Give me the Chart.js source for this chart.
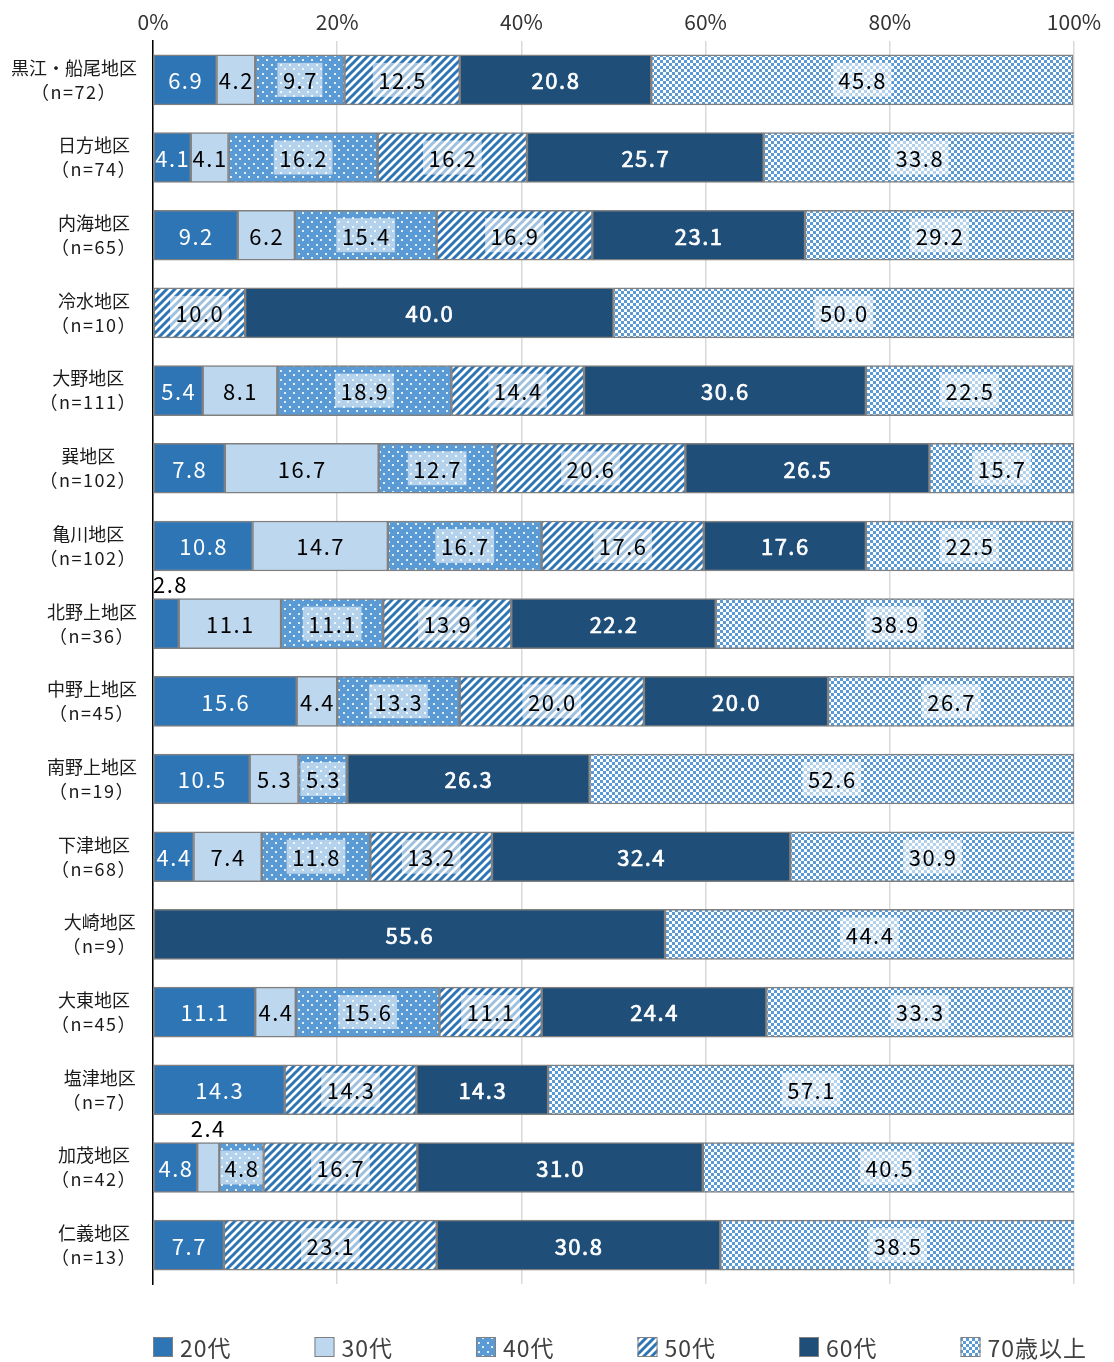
<!DOCTYPE html>
<html>
<head>
<meta charset="utf-8">
<script src="https://cdn.jsdelivr.net/npm/chart.js@4/dist/chart.umd.min.js"></script>
<style>
  html, body { margin: 0; padding: 0; background: #ffffff; }
  #wrap { width: 1114px; height: 1362px; }
</style>
</head>
<body>
<div id="wrap"><canvas id="c" width="1114" height="1362"></canvas></div>
<script>
// ---- data ----
const districts = ['黒江・船尾地区','日方地区','内海地区','冷水地区','大野地区','巽地区','亀川地区','北野上地区','中野上地区','南野上地区','下津地区','大崎地区','大東地区','塩津地区','加茂地区','仁義地区'];
const sampleSizes = ['（n=72）','（n=74）','（n=65）','（n=10）','（n=111）','（n=102）','（n=102）','（n=36）','（n=45）','（n=19）','（n=68）','（n=9）','（n=45）','（n=7）','（n=42）','（n=13）'];
const seriesNames = ['20代','30代','40代','50代','60代','70歳以上'];
const age20s = [6.9, 4.1, 9.2, 0, 5.4, 7.8, 10.8, 2.8, 15.6, 10.5, 4.4, 0, 11.1, 14.3, 4.8, 7.7];
const age30s = [4.2, 4.1, 6.2, 0, 8.1, 16.7, 14.7, 11.1, 4.4, 5.3, 7.4, 0, 4.4, 0, 2.4, 0];
const age40s = [9.7, 16.2, 15.4, 0, 18.9, 12.7, 16.7, 11.1, 13.3, 5.3, 11.8, 0, 15.6, 0, 4.8, 0];
const age50s = [12.5, 16.2, 16.9, 10.0, 14.4, 20.6, 17.6, 13.9, 20.0, 0, 13.2, 0, 11.1, 14.3, 16.7, 23.1];
const age60s = [20.8, 25.7, 23.1, 40.0, 30.6, 26.5, 17.6, 22.2, 20.0, 26.3, 32.4, 55.6, 24.4, 14.3, 31.0, 30.8];
const age70plus = [45.8, 33.8, 29.2, 50.0, 22.5, 15.7, 22.5, 38.9, 26.7, 52.6, 30.9, 44.4, 33.3, 57.1, 40.5, 38.5];
const xTicks = [0, 20, 40, 60, 80, 100];

// ---- patterns ----
const ctxMain = document.getElementById('c').getContext('2d');
function pat(w, h, fn) {
  const c = document.createElement('canvas');
  c.width = w; c.height = h;
  fn(c.getContext('2d'), w, h);
  return ctxMain.createPattern(c, 'repeat');
}
const dotPat = pat(9, 9, (g) => {
  g.fillStyle = '#5b9bd5'; g.fillRect(0, 0, 9, 9);
  g.fillStyle = '#e3eef9';
  g.fillRect(1, 1, 2, 2);
  g.fillRect(5, 5, 2, 2);
});
const stripePat = pat(8, 8, (g) => {
  g.fillStyle = '#ffffff'; g.fillRect(0, 0, 8, 8);
  g.strokeStyle = '#2e75b6'; g.lineWidth = 3;
  g.beginPath();
  g.moveTo(-2, 10); g.lineTo(10, -2);
  g.moveTo(-6, 6); g.lineTo(6, -6);
  g.moveTo(2, 14); g.lineTo(14, 2);
  g.stroke();
});
const checkPat = pat(6, 6, (g) => {
  g.fillStyle = '#ffffff'; g.fillRect(0, 0, 6, 6);
  g.fillStyle = '#5b9bd5';
  g.fillRect(0, 0, 3, 3);
  g.fillRect(3, 3, 3, 3);
});

const fills = ['#2e75b6', '#bdd7ee', dotPat, stripePat, '#1f4e79', checkPat];
const labelColors = ['#ffffff', '#000000', '#000000', '#000000', '#ffffff', '#000000'];
const labelBoxes = [false, false, true, true, false, true];
const labelHeavy = [false, false, false, false, true, false];
const seriesValues = [age20s, age30s, age40s, age50s, age60s, age70plus];

const VALUE_FONT = '"Noto Sans CJK JP", "DejaVu Sans", sans-serif';

const valueLabels = {
  id: 'valueLabels',
  afterDatasetsDraw(chart) {
    const ctx = chart.ctx;
    const area = chart.chartArea;
    ctx.save();
    ctx.letterSpacing = '1.5px';
    ctx.textBaseline = 'middle';
    ctx.textAlign = 'center';
    ctx.font = '22px ' + VALUE_FONT;
    chart.data.datasets.forEach((ds, di) => {
      const meta = chart.getDatasetMeta(di);
      meta.data.forEach((el, i) => {
        const v = seriesValues[di][i];
        if (!v) return;
        const txt = v.toFixed(1);
        const tw = ctx.measureText(txt).width;
        const left = Math.min(el.x, el.base), right = Math.max(el.x, el.base);
        let cx = (left + right) / 2;
        if (v < 3) {
          cx = Math.max(cx, area.left + tw / 2);
          const cy = el.y - el.height / 2 - 14;
          ctx.fillStyle = '#000000';
          ctx.fillText(txt, cx, cy);
          return;
        }
        if (labelBoxes[di]) {
          const bw = Math.min(tw + 10, right - left - 2);
          ctx.fillStyle = 'rgba(255,255,255,0.55)';
          ctx.fillRect(cx - bw / 2, el.y - 17, bw, 34);
        }
        ctx.fillStyle = labelColors[di];
        ctx.fillText(txt, cx + 0.5, el.y + 1);
        if (labelHeavy[di]) {
          ctx.strokeStyle = labelColors[di];
          ctx.lineWidth = 0.7;
          ctx.strokeText(txt, cx + 0.5, el.y + 1);
        }
      });
    });
    ctx.restore();
  }
};

const yLabels = {
  id: 'yLabels',
  afterDraw(chart) {
    const ctx = chart.ctx;
    const ys = chart.scales.y;
    ctx.save();
    ctx.font = '18px "Noto Sans CJK JP", sans-serif';
    ctx.fillStyle = '#1a1a1a';
    ctx.textBaseline = 'middle';
    ctx.textAlign = 'center';
    districts.forEach((d, i) => {
      const y = ys.getPixelForValue(i);
      const w1 = ctx.measureText(d).width;
      ctx.letterSpacing = '1.5px';
      const w2 = ctx.measureText(sampleSizes[i]).width;
      ctx.letterSpacing = '0px';
      const bw = Math.max(w1, w2);
      const cx = 137 - bw / 2;
      ctx.fillText(d, cx, y - 12);
      ctx.letterSpacing = '1.5px';
      ctx.fillText(sampleSizes[i], cx, y + 12);
      ctx.letterSpacing = '0px';
    });
    ctx.restore();
  }
};

const legendPlugin = {
  id: 'customLegend',
  afterDraw(chart) {
    const ctx = chart.ctx;
    const left = chart.chartArea.left;
    ctx.save();
    ctx.font = '23px "Noto Sans CJK JP", sans-serif';
    ctx.letterSpacing = '1px';
    ctx.textBaseline = 'middle';
    ctx.textAlign = 'left';
    seriesNames.forEach((n, i) => {
      const x = left + i * 161.5;
      const y = 1347;
      ctx.fillStyle = fills[i];
      ctx.fillRect(x, y - 10, 20, 20);
      ctx.strokeStyle = '#808080';
      ctx.lineWidth = 1;
      ctx.strokeRect(x + 0.5, y - 9.5, 19, 19);
      ctx.fillStyle = '#404040';
      ctx.fillText(n, x + 27, y + 1);
    });
    ctx.restore();
  }
};

const chart = new Chart(document.getElementById('c'), {
  type: 'bar',
  data: {
    labels: districts,
    datasets: seriesNames.map((n, i) => ({
      label: n,
      data: seriesValues[i].map(v => v === 0 ? null : v),
      backgroundColor: fills[i],
      borderColor: '#808080',
      borderWidth: 1.5,
      borderSkipped: false,
      barThickness: 50
    }))
  },
  options: {
    indexAxis: 'y',
    responsive: false,
    animation: false,
    events: [],
    layout: { padding: { top: 0, right: 40, bottom: 78, left: 0 } },
    plugins: {
      legend: { display: false },
      tooltip: { enabled: false }
    },
    scales: {
      x: {
        position: 'top',
        stacked: true,
        min: 0,
        max: 100,
        afterBuildTicks(scale) { scale.ticks = xTicks.map(v => ({ value: v })); },
        afterFit(scale) { scale.height = 41; },
        ticks: {
          callback: v => v + '%',
          font: { size: 21, family: '"Noto Sans CJK JP", sans-serif' },
          color: '#333333',
          padding: 6,
          maxRotation: 0
        },
        grid: { color: '#d9d9d9', lineWidth: 1.5, drawTicks: false },
        border: { display: false }
      },
      y: {
        stacked: true,
        afterFit(scale) { scale.width = 153; },
        ticks: { display: false },
        grid: { display: false },
        border: { display: true, color: '#000000', width: 1.5 }
      }
    }
  },
  plugins: [valueLabels, yLabels, legendPlugin]
});
</script>
</body>
</html>
